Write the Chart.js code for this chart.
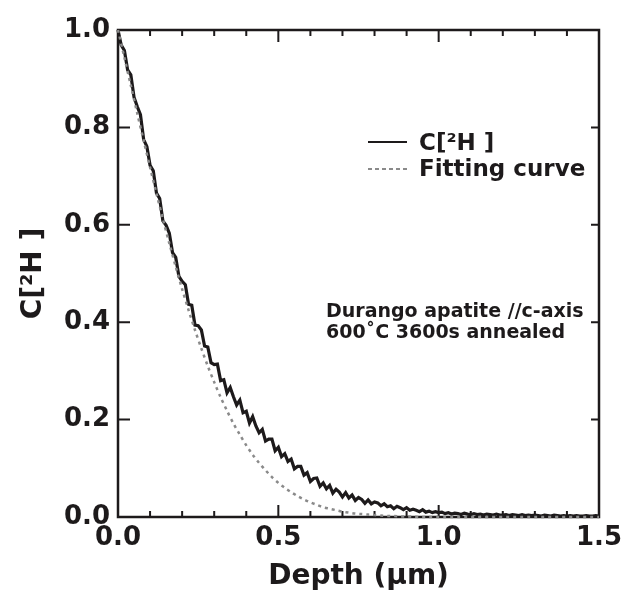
<!DOCTYPE html>
<html>
<head>
<meta charset="utf-8">
<script src="https://cdn.jsdelivr.net/npm/chart.js@4.4.1/dist/chart.umd.min.js"></script>
<style>
  html, body { margin: 0; padding: 0; background: #fff; }
  #wrap { width: 632px; height: 596px; }
</style>
</head>
<body>
<div id="wrap"><canvas id="grafico"></canvas></div>
<script>
// ----------------------------------------------------
//  DADOS
// ----------------------------------------------------
const depthStep = 0.01; // um, passo do perfil medido
const measured = [
  1.000, 0.969, 0.958, 0.918, 0.908, 0.862, 0.843, 0.826, 0.775, 0.761,
  0.722, 0.711, 0.665, 0.654, 0.608, 0.599, 0.583, 0.543, 0.533, 0.494,
  0.484, 0.477, 0.437, 0.435, 0.394, 0.393, 0.384, 0.351, 0.349, 0.317,
  0.313, 0.314, 0.280, 0.282, 0.255, 0.266, 0.247, 0.230, 0.240, 0.214,
  0.217, 0.193, 0.206, 0.187, 0.173, 0.180, 0.156, 0.160, 0.160, 0.136,
  0.143, 0.124, 0.130, 0.114, 0.119, 0.099, 0.104, 0.104, 0.086, 0.091,
  0.073, 0.079, 0.080, 0.063, 0.070, 0.058, 0.065, 0.049, 0.057, 0.051,
  0.041, 0.050, 0.039, 0.045, 0.034, 0.040, 0.036, 0.028, 0.035, 0.027,
  0.031, 0.029, 0.023, 0.027, 0.021, 0.023, 0.017, 0.022, 0.019, 0.015,
  0.019, 0.014, 0.016, 0.014, 0.011, 0.015, 0.010, 0.012, 0.009, 0.011,
  0.009, 0.010, 0.007, 0.009, 0.006, 0.008, 0.007, 0.005, 0.008, 0.006,
  0.005, 0.007, 0.005, 0.006, 0.004, 0.006, 0.005, 0.004, 0.006, 0.004,
  0.004, 0.005, 0.003, 0.005, 0.004, 0.003, 0.005, 0.003, 0.004, 0.003,
  0.004, 0.003, 0.002, 0.004, 0.003, 0.002, 0.004, 0.003, 0.002, 0.003,
  0.002, 0.003, 0.002, 0.003, 0.002, 0.002, 0.003, 0.002, 0.002, 0.003,
  0.002,
];

const fitStep = 0.02;
const fitting = [
  1.000, 0.943, 0.886, 0.829, 0.773, 0.718, 0.664, 0.612, 0.562, 0.514,
  0.468, 0.425, 0.384, 0.346, 0.310, 0.277, 0.246, 0.218, 0.192, 0.169,
  0.147, 0.128, 0.111, 0.096, 0.082, 0.070, 0.060, 0.051, 0.043, 0.036,
  0.030, 0.025, 0.020, 0.017, 0.014, 0.011, 0.009, 0.007, 0.006, 0.005,
  0.004, 0.003, 0.002, 0.002, 0.001, 0.001, 0.001, 0.000, 0.000, 0.000,
  0.000, 0.000, 0.000, 0.000, 0.000, 0.000, 0.000, 0.000, 0.000, 0.000,
  0.000, 0.000, 0.000, 0.000, 0.000, 0.000, 0.000, 0.000, 0.000, 0.000,
  0.000, 0.000, 0.000, 0.000, 0.000, 0.000,
];

const xTicksMajor = [0.0, 0.5, 1.0, 1.5];
const xTicksMinor = [0.1, 0.2, 0.3, 0.4, 0.6, 0.7, 0.8, 0.9, 1.1, 1.2, 1.3, 1.4];
const yTicksMajor = [0.0, 0.2, 0.4, 0.6, 0.8, 1.0];

const legendLabels = ["C[\u00B2H ]", "Fitting curve"];
const noteLines = ["Durango apatite //c-axis", "600\u02DAC 3600s annealed"];

// ----------------------------------------------------
//  ESTILO
// ----------------------------------------------------
const ink = "#1d1a1b";
const gray = "#8a8a8a";
const fonte = '"DejaVu Sans", sans-serif';

// moldura + ticks para dentro
const molduraPlugin = {
  id: "moldura",
  beforeDatasetsDraw(chart) {
    const { ctx, chartArea: a, scales } = chart;
    const sx = scales.x, sy = scales.y;
    ctx.save();
    ctx.strokeStyle = ink;
    ctx.lineWidth = 2.5;
    ctx.strokeRect(a.left, a.top, a.right - a.left, a.bottom - a.top);
    ctx.lineWidth = 2;
    ctx.beginPath();
    xTicksMajor.forEach((v) => {
      const px = sx.getPixelForValue(v);
      ctx.moveTo(px, a.bottom); ctx.lineTo(px, a.bottom - 12);
      ctx.moveTo(px, a.top); ctx.lineTo(px, a.top + 12);
    });
    xTicksMinor.forEach((v) => {
      const px = sx.getPixelForValue(v);
      ctx.moveTo(px, a.bottom); ctx.lineTo(px, a.bottom - 6);
      ctx.moveTo(px, a.top); ctx.lineTo(px, a.top + 6);
    });
    yTicksMajor.forEach((v) => {
      const py = sy.getPixelForValue(v);
      ctx.moveTo(a.left, py); ctx.lineTo(a.left + 12, py);
      ctx.moveTo(a.right, py); ctx.lineTo(a.right - 8, py);
    });
    ctx.stroke();
    ctx.restore();
  },
  afterDraw(chart) {
    const { ctx } = chart;
    ctx.save();
    // legenda
    ctx.lineWidth = 2;
    ctx.strokeStyle = ink;
    ctx.beginPath(); ctx.moveTo(368, 142); ctx.lineTo(407, 142); ctx.stroke();
    ctx.strokeStyle = gray;
    ctx.setLineDash([4, 3]);
    ctx.beginPath(); ctx.moveTo(368, 169); ctx.lineTo(407, 169); ctx.stroke();
    ctx.setLineDash([]);
    ctx.fillStyle = ink;
    ctx.textBaseline = "alphabetic";
    ctx.font = "bold 23px " + fonte;
    ctx.fillText(legendLabels[0], 419, 150);
    ctx.fillText(legendLabels[1], 419, 176);
    // anotação
    ctx.font = "bold 19px " + fonte;
    ctx.fillText(noteLines[0], 326, 317);
    ctx.fillText(noteLines[1], 326, 338);
    ctx.restore();
  },
};

new Chart(document.getElementById("grafico"), {
  type: "line",
  data: {
    datasets: [
      {
        label: legendLabels[0],
        data: measured.map((v, i) => ({ x: i * depthStep, y: v })),
        borderColor: ink,
        borderWidth: 3.2,
        borderJoinStyle: "miter",
        pointRadius: 0,
        tension: 0,
        clip: 4,
        order: 1,
      },
      {
        label: legendLabels[1],
        data: fitting.map((v, i) => ({ x: i * fitStep, y: v })),
        borderColor: gray,
        borderWidth: 2.5,
        borderDash: [3, 4],
        pointRadius: 0,
        tension: 0.3,
        clip: 4,
        order: 0,
      },
    ],
  },
  options: {
    responsive: true,
    maintainAspectRatio: false,
    animation: false,
    layout: { padding: { top: 30, right: 33, left: 0, bottom: 0 } },
    plugins: { legend: { display: false }, tooltip: { enabled: false } },
    scales: {
      x: {
        type: "linear",
        min: 0,
        max: 1.5,
        afterFit: (s) => { s.height = 79; },
        afterBuildTicks: (s) => { s.ticks = xTicksMajor.map((v) => ({ value: v })); },
        grid: { display: false, drawTicks: false },
        border: { display: false },
        ticks: {
          padding: 6,
          color: ink,
          font: { family: fonte, size: 26, weight: "bold" },
          callback: (v) => v.toFixed(1),
        },
        title: {
          display: true,
          text: "Depth (\u00B5m)",
          color: ink,
          padding: { top: 0, bottom: 2 },
          font: { family: fonte, size: 28, weight: "bold" },
        },
      },
      y: {
        min: 0,
        max: 1,
        afterFit: (s) => { s.width = 118; },
        afterBuildTicks: (s) => { s.ticks = yTicksMajor.map((v) => ({ value: v })); },
        grid: { display: false, drawTicks: false },
        border: { display: false },
        ticks: {
          padding: 8,
          color: ink,
          font: { family: fonte, size: 26, weight: "bold" },
          callback: (v) => v.toFixed(1),
        },
        title: {
          display: true,
          text: legendLabels[0],
          color: ink,
          padding: { top: 17, bottom: 0 },
          font: { family: fonte, size: 28, weight: "bold" },
        },
      },
    },
  },
  plugins: [molduraPlugin],
});
</script>
</body>
</html>
